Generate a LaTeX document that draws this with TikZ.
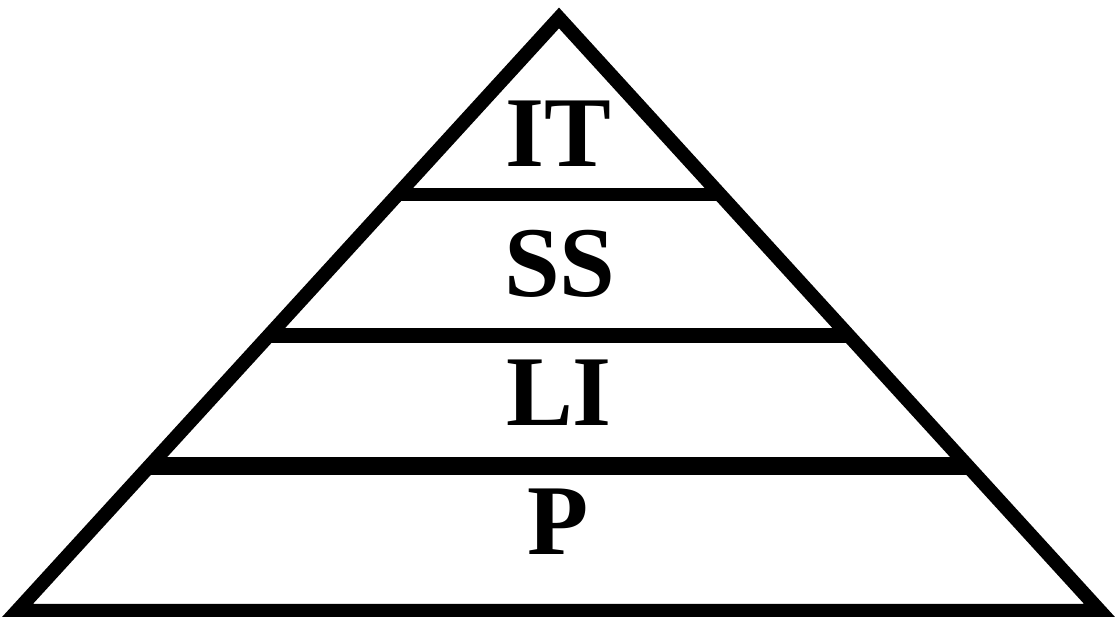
\documentclass[tikz,border=0pt]{standalone}
\usepackage{fontspec}
\setmainfont{Liberation Serif}[BoldFont={Liberation Serif Bold}]
\usetikzlibrary{calc, positioning}

\begin{document}
\begin{tikzpicture}[x=0.02cm, y=-0.02cm, font=\fontsize{57}{60}\selectfont\bfseries]
	\useasboundingbox (0,0) rectangle (1116,617);
	\coordinate (top) at (559,18);
	\coordinate (bl) at (17,611);
	\coordinate (br) at (1100,611);
	\draw[line width=0.28cm, line join=miter] (top) -- (bl) -- (br) -- cycle;
	\foreach \t/\w/\n in {0.297/0.26cm/one, 0.536/0.30cm/two, 0.755/0.36cm/three}
	\draw[line width=\w] ($(top)!\t!(bl)$) coordinate (l\n) -- ($(top)!\t!(br)$) coordinate (r\n);
	\node[inner sep=0pt] (it) at (558,134) {IT};
	\node[inner sep=0pt] (ss) at (560,264) {SS};
	\node[inner sep=0pt] (li) at (559,393) {LI};
	\node[inner sep=0pt] (p) at (558,522) {P};
\end{tikzpicture}
\end{document}
